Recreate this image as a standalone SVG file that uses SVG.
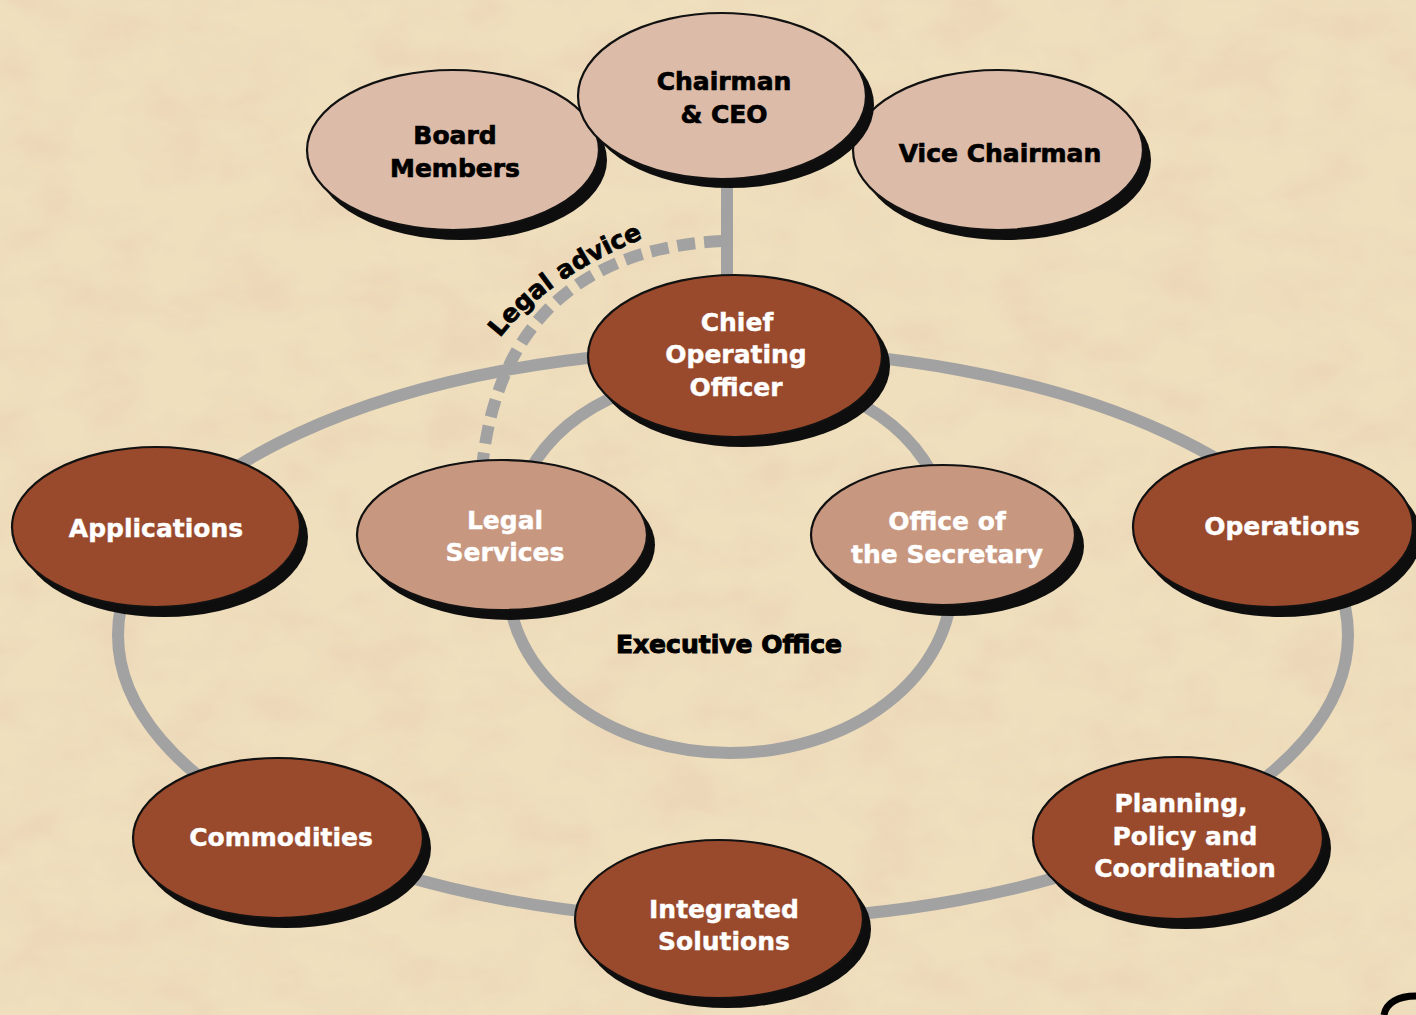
<svg xmlns="http://www.w3.org/2000/svg" xmlns:xlink="http://www.w3.org/1999/xlink" width="1416" height="1015" viewBox="0 0 1416 1015">
<defs>
<filter id="tex" x="0" y="0" width="100%" height="100%">
<feTurbulence type="fractalNoise" baseFrequency="0.014 0.022" numOctaves="4" seed="7"/>
<feColorMatrix type="matrix" values="0 0 0 0 0.84  0 0 0 0 0.68  0 0 0 0 0.48  0 0 0 2.2 -0.85"/>
</filter>
<path id="lp" d="M 500 338 Q 553 270 668 229"/>
</defs>
<style>
.ring{fill:none;stroke:#a2a2a2;stroke-width:12}
.sh{fill:#0e0e0e}
.e{stroke:#111;stroke-width:2.2}
.light{fill:#dcbba8}
.mid{fill:#c8977f}
.dark{fill:#9a4a2c}
text{font-family:"DejaVu Sans","Liberation Sans",sans-serif;font-weight:bold;font-size:25px;text-anchor:middle}
.w{fill:#fff;stroke:#fff;stroke-width:0.4}
.b{fill:#000;stroke:#000;stroke-width:0.7}
</style>
<rect width="1416" height="1015" fill="#efdfbd"/>
<rect width="1416" height="1015" filter="url(#tex)"/>

<g id="connectors">
<ellipse class="ring" cx="733" cy="635" rx="615" ry="285"/>
<path class="ring" d="M 508 582 A 222 171 0 0 0 952 582"/>
<path class="ring" d="M 952 582 C 958 505 930 430 835 392"/>
<path class="ring" d="M 508 582 C 502 505 530 430 625 392"/>
<line class="ring" x1="727" y1="170" x2="727" y2="295"/>
<path d="M 722 241 C 620 246 500 290 482 468" fill="none" stroke="#a2a2a2" stroke-width="12" stroke-dasharray="18 9"/>
<text class="b" font-size="27" style="text-anchor:start"><textPath href="#lp" xlink:href="#lp">Legal advice</textPath></text>
</g>

<g id="board">
<ellipse class="sh" cx="461" cy="160" rx="146" ry="80"/>
<ellipse class="e light" cx="453" cy="150" rx="146" ry="80"/>
<text class="b" x="455" y="144">Board</text>
<text class="b" x="455" y="177">Members</text>
</g>
<g id="vice">
<ellipse class="sh" cx="1006" cy="160" rx="145" ry="80"/>
<ellipse class="e light" cx="998" cy="150" rx="145" ry="80"/>
<text class="b" x="1000" y="162">Vice Chairman</text>
</g>
<g id="chairman">
<ellipse class="sh" cx="730" cy="105" rx="144" ry="83"/>
<ellipse class="e light" cx="722" cy="96" rx="144" ry="83"/>
<text class="b" x="724" y="90">Chairman</text>
<text class="b" x="724" y="123">&amp; CEO</text>
</g>
<g id="coo">
<ellipse class="sh" cx="743" cy="366" rx="147" ry="81"/>
<ellipse class="e dark" cx="735" cy="356" rx="147" ry="81"/>
<text class="w" x="737" y="331">Chief</text>
<text class="w" x="736" y="363">Operating</text>
<text class="w" x="736" y="396">Officer</text>
</g>
<g id="applications">
<ellipse class="sh" cx="164" cy="537" rx="144" ry="80"/>
<ellipse class="e dark" cx="156" cy="527" rx="144" ry="80"/>
<text class="w" x="156" y="537">Applications</text>
</g>
<g id="legal">
<ellipse class="sh" cx="510" cy="545" rx="145" ry="75"/>
<ellipse class="e mid" cx="502" cy="535" rx="145" ry="75"/>
<text class="w" x="505" y="529">Legal</text>
<text class="w" x="505" y="561">Services</text>
</g>
<g id="secretary">
<ellipse class="sh" cx="952" cy="546" rx="132" ry="70"/>
<ellipse class="e mid" cx="943" cy="535" rx="132" ry="70"/>
<text class="w" x="947" y="530">Office of</text>
<text class="w" x="947" y="563">the Secretary</text>
</g>
<g id="operations">
<ellipse class="sh" cx="1281" cy="537" rx="140" ry="80"/>
<ellipse class="e dark" cx="1273" cy="527" rx="140" ry="80"/>
<text class="w" x="1282" y="535">Operations</text>
</g>
<g id="commodities">
<ellipse class="sh" cx="286" cy="848" rx="145" ry="80"/>
<ellipse class="e dark" cx="278" cy="838" rx="145" ry="80"/>
<text class="w" x="281" y="846">Commodities</text>
</g>
<g id="integrated">
<ellipse class="sh" cx="727" cy="929" rx="144" ry="79"/>
<ellipse class="e dark" cx="719" cy="919" rx="144" ry="79"/>
<text class="w" x="724" y="918">Integrated</text>
<text class="w" x="724" y="950">Solutions</text>
</g>
<g id="planning">
<ellipse class="sh" cx="1186" cy="848" rx="145" ry="81"/>
<ellipse class="e dark" cx="1178" cy="838" rx="145" ry="81"/>
<text class="w" x="1181" y="812">Planning,</text>
<text class="w" x="1185" y="845">Policy and</text>
<text class="w" x="1185" y="877">Coordination</text>
</g>
<g id="executive">
<text class="b" x="729" y="653" font-size="24.5" style="stroke-width:1">Executive Office</text>
</g>
<path d="M 1384 1015 C 1386 1003 1398 996 1416 996" fill="none" stroke="#000" stroke-width="7"/>
</svg>
